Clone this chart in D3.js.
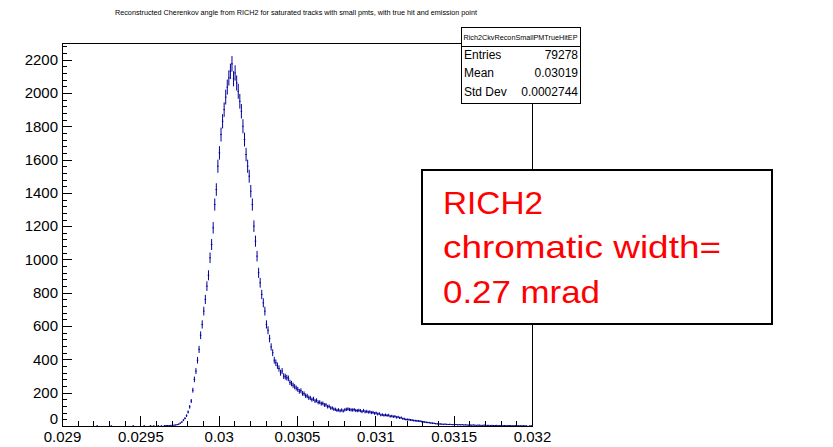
<!DOCTYPE html>
<html><head><meta charset="utf-8">
<script src="https://cdn.jsdelivr.net/npm/d3@7"></script>
<style>
body{margin:0;background:#fff}
svg{display:block}
text{font-family:"Liberation Sans",Arial,Helvetica,sans-serif}
</style>
</head><body>
<svg id="c" width="833" height="447"></svg>
<script>
// ---------------- data ----------------
const binCounts = [
  0,0,0,0,0,0,0,0,0,0,
  0,0,0,0,0,0,0,0,0,0,
  0,0,1,0,0,0,0,0,0,0,
  0,1,0,0,0,0,0,0,0,0,
  0,0,0,0,0,1,0,0,0,0,
  0,0,1,0,0,0,2,0,1,0,
  0,2,0,1,0,3,2,3,2,4,
  3,5,6,8,11,17,24,35,46,62,
  84,115,150,215,280,330,395,460,545,610,
  690,760,840,905,1010,1090,1190,1330,1420,1560,
  1640,1750,1830,1900,1975,2035,2090,2130,2175,2085,
  2120,2060,2010,1950,1890,1800,1720,1630,1560,1500,
  1410,1330,1200,1110,1020,920,860,790,740,690,
  610,575,525,475,440,395,380,362,345,320,
  330,300,296,290,286,262,255,245,236,228,
  220,208,212,196,194,182,180,170,168,158,
  163,150,154,142,143,134,136,126,127,116,
  118,108,108,101,100,94,97,91,96,90,
  97,100,102,99,97,96,98,93,92,94,
  92,86,93,85,88,83,85,80,82,76,
  78,72,74,66,68,64,67,63,65,58,
  60,56,58,52,54,49,50,44,43,39,
  39,38,36,35,33,32,31,30,29,27,
  25,24,22,21,20,18,17,16,14,13,
  12,12,11,10,11,10,9,10,9,8,
  8,9,7,8,7,8,6,7,6,5,
  6,5,6,5,4,5,5,4,4,5,
  3,4,4,3,4,3,3,4,2,3,
  3,2,3,2,2,3,2,1,2,2,
  1,2,1,1,2,1,1,0,1,1
];
const xRange = [0.029, 0.032];
const yRange = [0, 2300];
const xTicks = [0.029, 0.0295, 0.03, 0.0305, 0.031, 0.0315, 0.032];
const xTickLabels = ["0.029", "0.0295", "0.03", "0.0305", "0.031", "0.0315", "0.032"];
const yTicks = [0, 200, 400, 600, 800, 1000, 1200, 1400, 1600, 1800, 2000, 2200];
const yTickLabels = ["0", "200", "400", "600", "800", "1000", "1200", "1400", "1600", "1800", "2000", "2200"];
const titleText = "Reconstructed Cherenkov angle from RICH2 for saturated tracks with small pmts,  with true hit and emission point";
const statsTitle = "Rich2CkvReconSmallPMTrueHitEP";
const statsNames = ["Entries", "Mean", "Std Dev"];
const statsValues = ["79278", "0.03019", "0.0002744"];
const noteLines = ["RICH2", "chromatic width=", "0.27 mrad"];

// ---------------- layout ----------------
const L = 62, R = 532, T = 43, B = 426;
const svg = d3.select("#c");
svg.append("rect").attr("width", 833).attr("height", 447).attr("fill", "#fff");

const x = d3.scaleLinear().domain(xRange).range([L, R]);
const y = d3.scaleLinear().domain(yRange).range([B, T]);
const nBins = binCounts.length;
const bw = (xRange[1] - xRange[0]) / nBins;

// title
svg.append("text").attr("x", 296).attr("y", 15).attr("text-anchor", "middle")
  .attr("font-size", 6.4).attr("textLength", 362).attr("lengthAdjust", "spacingAndGlyphs")
  .attr("fill", "#000").text(titleText);

// frame
svg.append("rect").attr("x", L).attr("y", T).attr("width", R - L).attr("height", B - T)
  .attr("fill", "none").attr("stroke", "#000").attr("stroke-width", 1).attr("shape-rendering", "crispEdges");

// histogram (error-bar style)
const hist = svg.append("g").attr("stroke", "#000099").attr("stroke-width", 1).attr("fill", "none");
binCounts.forEach((c, i) => {
  if (c <= 0) return;
  const lo = xRange[0] + i * bw, hi = lo + bw, mid = lo + bw / 2;
  const e = Math.sqrt(c);
  hist.append("line").attr("x1", x(lo)).attr("x2", x(hi)).attr("y1", y(c)).attr("y2", y(c));
  hist.append("line").attr("x1", x(mid)).attr("x2", x(mid)).attr("y1", y(Math.max(0, c - e))).attr("y2", y(c + e));
});

// minor ticks
const xMinor = d3.range(0, 31).map(k => xRange[0] + k * 0.0001);
const yMinor = d3.range(0, 58).map(k => k * 40).filter(v => v <= yRange[1]);
svg.append("g").attr("transform", `translate(0,${B})`)
  .call(d3.axisBottom(x).tickValues(xMinor).tickSize(-5).tickSizeOuter(0).tickFormat(""))
  .call(g => g.select(".domain").remove());
svg.append("g").attr("transform", `translate(${L},0)`)
  .call(d3.axisLeft(y).tickValues(yMinor).tickSize(-5).tickSizeOuter(0).tickFormat(""))
  .call(g => g.select(".domain").remove());

// major axes
const xa = svg.append("g").attr("transform", `translate(0,${B})`)
  .call(d3.axisBottom(x).tickValues(xTicks).tickSize(-10).tickSizeOuter(0).tickPadding(5)
    .tickFormat((d, i) => xTickLabels[i]));
const ya = svg.append("g").attr("transform", `translate(${L},0)`)
  .call(d3.axisLeft(y).tickValues(yTicks).tickSize(-10).tickSizeOuter(0).tickPadding(4)
    .tickFormat((d, i) => yTickLabels[i]));
[xa, ya].forEach(g => {
  g.selectAll("text").attr("font-size", 15).attr("fill", "#000")
    .attr("font-family", '"Liberation Sans",Arial,Helvetica,sans-serif');
  g.selectAll("line,path").attr("stroke", "#000").attr("shape-rendering", "crispEdges");
});
ya.selectAll(".tick").filter(d => d === 0).select("text").attr("dy", "-0.18em");
svg.selectAll(".tick line").attr("stroke", "#000").attr("shape-rendering", "crispEdges");

// stats box
const sb = svg.append("g");
sb.append("rect").attr("x", 461).attr("y", 27).attr("width", 119).attr("height", 76)
  .attr("fill", "#fff").attr("stroke", "#000").attr("stroke-width", 1).attr("shape-rendering", "crispEdges");
sb.append("line").attr("x1", 461).attr("x2", 580).attr("y1", 46).attr("y2", 46)
  .attr("stroke", "#000").attr("shape-rendering", "crispEdges");
sb.append("text").attr("x", 520.5).attr("y", 39.5).attr("text-anchor", "middle")
  .attr("font-size", 7.4).attr("textLength", 114).attr("lengthAdjust", "spacingAndGlyphs").text(statsTitle);
const rowY = [59, 77, 95.5];
statsNames.forEach((n, i) => {
  sb.append("text").attr("x", 464).attr("y", rowY[i]).attr("font-size", 12).text(n);
  sb.append("text").attr("x", 578).attr("y", rowY[i]).attr("text-anchor", "end").attr("font-size", 12).text(statsValues[i]);
});

// annotation box
const nb = svg.append("g");
nb.append("rect").attr("x", 422).attr("y", 170).attr("width", 350).attr("height", 154)
  .attr("fill", "#fff").attr("stroke", "#000").attr("stroke-width", 2);
const noteY = [214, 258, 303];
const noteW = [100, 278, 157];
noteLines.forEach((t, i) => {
  nb.append("text").attr("x", 443).attr("y", noteY[i]).attr("font-size", 31.5)
    .attr("font-family", '"Noto Sans","Open Sans","Liberation Sans",Arial,sans-serif')
    .attr("fill", "#ff0000").attr("textLength", noteW[i]).attr("lengthAdjust", "spacingAndGlyphs").text(t);
});
</script>
</body></html>
